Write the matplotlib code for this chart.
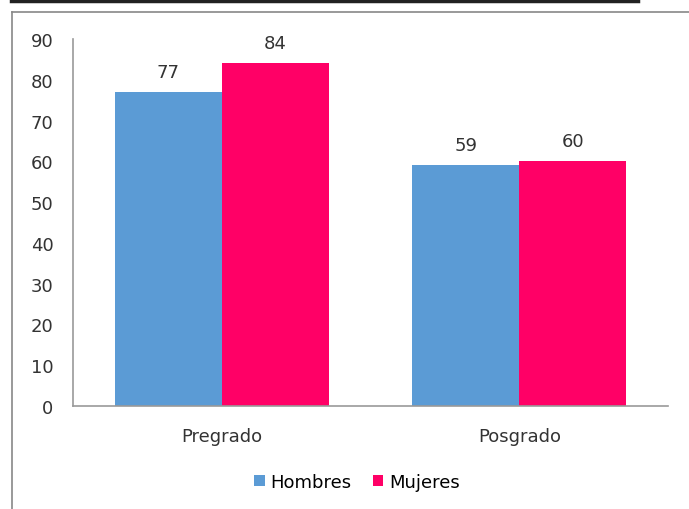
import numpy as np
import matplotlib
matplotlib.use('Agg')
import matplotlib.pyplot as plt
from matplotlib.lines import Line2D

# data
categories = ['Pregrado', 'Posgrado']
hombres = [77, 59]
mujeres = [84, 60]
series_names = ['Hombres', 'Mujeres']
colors = ['#5B9BD5', '#FF0066']
y_ticks = list(range(0, 91, 10))

plt.rcParams['font.family'] = 'DejaVu Sans'
fs = 13
fig = plt.figure(figsize=(6.89, 5.10), dpi=100, facecolor='white')
ax = fig.add_axes([73/689, 103/510, 595/689, 367/510])

x = np.arange(len(categories))
w = 0.36
b1 = ax.bar(x - w/2, hombres, w, color=colors[0], label=series_names[0])
b2 = ax.bar(x + w/2, mujeres, w, color=colors[1], label=series_names[1])

for bars in (b1, b2):
    for r in bars:
        ax.text(r.get_x() + r.get_width()/2, r.get_height() + 2.8, '%d' % r.get_height(),
                ha='center', va='bottom', fontsize=fs, color='#333333')

ax.set_xlim(-0.5, 1.5)
ax.set_ylim(0, 90)
ax.set_yticks(y_ticks)
ax.set_xticks(x)
ax.set_xticklabels(categories)
ax.tick_params(axis='both', length=0, labelsize=fs, colors='#333333')
ax.tick_params(axis='y', pad=14)
ax.tick_params(axis='x', pad=15)
for s in ['top', 'right']:
    ax.spines[s].set_visible(False)
for s in ['left', 'bottom']:
    ax.spines[s].set_color('#999999')
    ax.spines[s].set_linewidth(1.2)

fig.legend(handles=[b1, b2], labels=series_names, loc='center', bbox_to_anchor=(357/689, 1 - 483/510),
           ncol=2, frameon=False, fontsize=fs, handlelength=0.6, handleheight=0.6,
           handletextpad=0.33, columnspacing=1.15, borderpad=0)

# surrounding frame lines
fig.add_artist(Line2D([11/689, 638/689], [1 - 1.5/510, 1 - 1.5/510], color='#222222', lw=2.5))
fig.add_artist(Line2D([12/689, 1.0], [1 - 13/510, 1 - 13/510], color='#888888', lw=1.2))
fig.add_artist(Line2D([12/689, 12/689], [0, 1 - 13/510], color='#888888', lw=1.2))

fig.savefig('out.png', dpi=100, facecolor='white')
